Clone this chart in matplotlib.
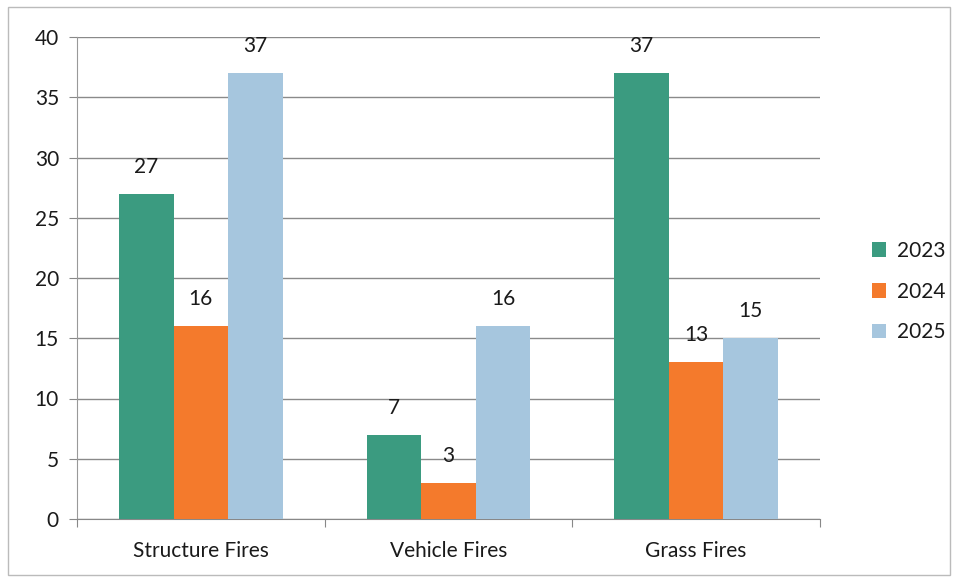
import matplotlib
matplotlib.use("Agg")
import matplotlib.pyplot as plt
import numpy as np
from matplotlib.patches import Rectangle

categories = ["Structure Fires", "Vehicle Fires", "Grass Fires"]
years = ["2023", "2024", "2025"]
values_2023 = [27, 7, 37]
values_2024 = [16, 3, 13]
values_2025 = [37, 16, 15]
series = [values_2023, values_2024, values_2025]
colors = ["#3b9b80", "#f47a2c", "#a6c6de"]

plt.rcParams['font.family'] = ['Lato', 'DejaVu Sans']

fig = plt.figure(figsize=(9.6, 5.82), dpi=100)
ax = fig.add_axes([77/960, 1-519/582, (820-77)/960, (519-37)/582])

x = np.arange(len(categories))
w = 0.22
for i, (vals, c, yr) in enumerate(zip(series, colors, years)):
    pos = x + (i - 1) * w
    bars = ax.bar(pos, vals, width=w, color=c, label=yr, zorder=3)
    for b, v in zip(bars, vals):
        ax.text(b.get_x() + b.get_width()/2, v + 1.4, str(v), ha='center', va='bottom',
                fontsize=15, color='#1a1a1a', zorder=4)

ax.set_xlim(-0.5, 2.5)
ax.set_ylim(0, 40)
ax.set_yticks(range(0, 41, 5))
ax.set_xticks([-0.5, 0.5, 1.5, 2.5], minor=False)
ax.set_xticklabels([])
ax.set_xticks(x, minor=True)
ax.set_xticklabels(categories, minor=True, fontsize=15, color='#1a1a1a')
ax.tick_params(axis='x', which='minor', length=0, pad=16)
ax.tick_params(axis='x', which='major', length=6, color='#888888', direction='out')
ax.tick_params(axis='y', length=6, color='#888888', labelsize=15, labelcolor='#1a1a1a', pad=7)
ax.grid(axis='y', color='#8a8a8a', linewidth=1, zorder=0)
for s in ['top', 'right']:
    ax.spines[s].set_visible(False)
ax.spines['left'].set_color('#999999')
ax.spines['bottom'].set_color('#888888')

leg = fig.legend(loc='upper left', bbox_to_anchor=(853/960, 1-222/582), frameon=False,
                 fontsize=15, handlelength=0.7, handleheight=0.7, labelspacing=1.0,
                 handletextpad=0.5)
for t in leg.get_texts():
    t.set_color('#1a1a1a')

fig.patches.append(Rectangle((8/960, 7/582), (950-8)/960, (575-7)/582, transform=fig.transFigure,
                             fill=False, edgecolor='#bbbbbb', linewidth=1))

fig.savefig("out.png", dpi=100)
